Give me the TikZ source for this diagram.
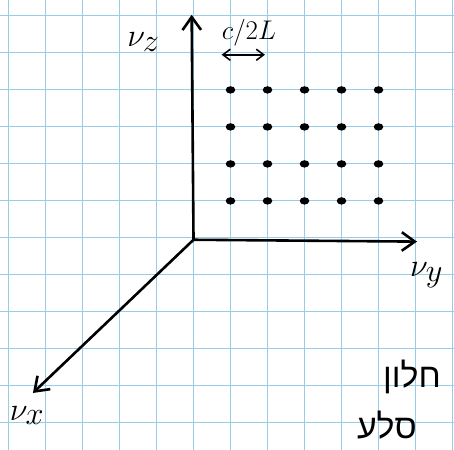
\documentclass[tikz,border=0pt]{standalone}
\usepackage{fontspec}
\usepackage{amsmath}
\usetikzlibrary{arrows.meta}
\newfontfamily\hebfont[Script=Hebrew]{Liberation Sans}
\TeXXeTstate=1
\definecolor{papier}{RGB}{150,205,232}
\tikzset{trait/.style={line width=2pt}}
\newcommand{\axe}[2]{\draw[trait,-{Straight Barb[length=3.5mm,width=5mm]}] (#1) -- (#2)}
\newcommand{\tache}[2]{\fill (#1,#2) ellipse (0.13 and 0.1)}

\begin{document}
\begin{tikzpicture}[x=1cm,y=1cm,
	etiq/.style={font=\fontsize{40}{40}\selectfont},
	heb/.style={font=\fontsize{26}{26}\selectfont\hebfont}]
	\useasboundingbox (-5.23,-5.73) rectangle (7.04,6.43);
	\draw[papier,line width=0.8pt] (-5.23,-5.73) grid (7.04,6.43);
	\coordinate (O) at (0,-0.05);
	\coordinate (zend) at (-0.05,6.03);
	\coordinate (yend) at (6.04,-0.1);
	\coordinate (xend) at (-4.34,-4.19);
	\axe{O}{zend};
	\axe{O}{yend};
	\axe{O}{xend};
	\node[etiq] (nz) at (-1.35,5.3) {$\nu_z$};
	\node[etiq] (ny) at (6.3,-1.0) {$\nu_y$};
	\node[etiq] (nx) at (-4.5,-4.8) {$\nu_x$};
	% modes
	\foreach \i in {1,...,5}
		\foreach \j in {1,...,4}
			{\tache{\i}{\j};}
	\coordinate (pasA) at (0.76,4.95);
	\coordinate (pasB) at (1.93,4.95);
	\draw[line width=1.2pt,{Straight Barb[length=2mm,width=3mm]}-{Straight Barb[length=2mm,width=3mm]}] (pasA) -- (pasB);
	\node[font=\fontsize{21}{21}\selectfont] (pas) at (1.5,5.55) {$c/2L$};
	\node[heb,anchor=west] (mot1) at (5.0,-3.75) {\beginR חלון\endR};
	\node[heb,anchor=west] (mot2) at (4.3,-5.05) {\beginR סלע\endR};
\end{tikzpicture}
\end{document}
